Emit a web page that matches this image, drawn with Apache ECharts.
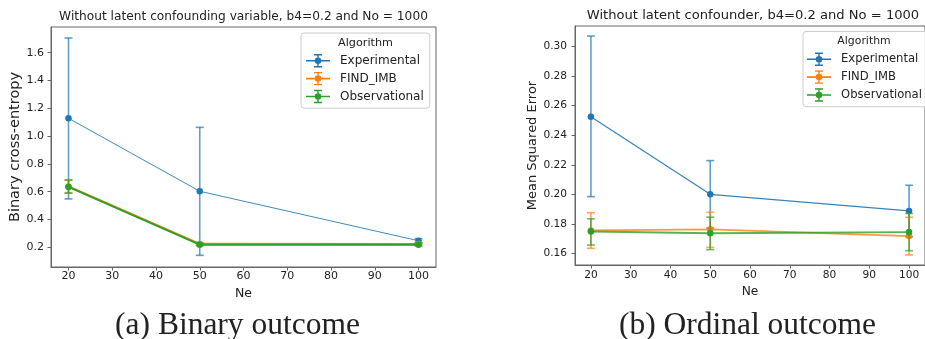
<!DOCTYPE html>
<html>
<head>
<meta charset="utf-8">
<script src="https://cdn.jsdelivr.net/npm/echarts@6/dist/echarts.min.js"></script>
<style>
  html, body { margin: 0; padding: 0; background: #fff; }
  #chart { width: 925px; height: 339px; }
</style>
</head>
<body>
<div id="chart"></div>
<script>
// data
var ne = [20, 50, 100];
var xTicks = [20, 30, 40, 50, 60, 70, 80, 90, 100];
var bceTicks = [0.2, 0.4, 0.6, 0.8, 1.0, 1.2, 1.4, 1.6];
var mseTicks = [0.16, 0.18, 0.20, 0.22, 0.24, 0.26, 0.28, 0.30];
var algorithms = ['Experimental', 'FIND_IMB', 'Observational'];

// (a) binary outcome, binary cross-entropy
var bceExp = [1.128, 0.603, 0.247];
var bceExpLo = [0.548, 0.142, 0.232];
var bceExpHi = [1.706, 1.063, 0.262];
var bceFind = [0.638, 0.224, 0.223];
var bceFindLo = [0.590, 0.215, 0.214];
var bceFindHi = [0.686, 0.232, 0.232];
var bceObs = [0.634, 0.219, 0.219];
var bceObsLo = [0.590, 0.211, 0.210];
var bceObsHi = [0.683, 0.228, 0.228];

// (b) ordinal outcome, mean squared error
var mseExp = [0.2526, 0.2000, 0.1887];
var mseExpLo = [0.1984, 0.1772, 0.1712];
var mseExpHi = [0.3072, 0.2228, 0.2061];
var mseFind = [0.1755, 0.1763, 0.1717];
var mseFindLo = [0.1634, 0.1640, 0.1589];
var mseFindHi = [0.1875, 0.1878, 0.1844];
var mseObs = [0.1748, 0.1736, 0.1744];
var mseObsLo = [0.1656, 0.1625, 0.1618];
var mseObsHi = [0.1834, 0.1845, 0.1870];

var colors = ['#1f77b4', '#ff7f0e', '#2ca02c'];
var ink = '#222';
var frame = '#666';

// line + errorbar glyph for the legend
var legendIcon = 'path://M0 6.2H24V7.8H0Z M11.3 1H12.7V13H11.3Z M8 0.3H16V1.7H8Z M8 12.3H16V13.7H8Z M15.3 7A3.3 3.3 0 1 1 8.7 7A3.3 3.3 0 1 1 15.3 7Z';

function errBar (params, api) {
  var lo = api.coord([api.value(0), api.value(1)])
  var hi = api.coord([api.value(0), api.value(2)])
  var st = { stroke: api.visual('color'), lineWidth: 1.6, opacity: 0.7 }
  var w = 4
  return {
    type: 'group',
    children: [
      { type: 'line', shape: { x1: lo[0], y1: lo[1], x2: hi[0], y2: hi[1] }, style: st },
      { type: 'line', shape: { x1: lo[0] - w, y1: lo[1], x2: lo[0] + w, y2: lo[1] }, style: st },
      { type: 'line', shape: { x1: hi[0] - w, y1: hi[1], x2: hi[0] + w, y2: hi[1] }, style: st }
    ]
  }
}

function pairs (ys) {
  return ne.map(function (x, i) { return [x, ys[i]] })
}
function triples (lo, hi) {
  return ne.map(function (x, i) { return [x, lo[i], hi[i]] })
}

function addSeries (list, idx, name, color, mean, lo, hi, width, opacity, z) {
  list.push({
    name: name,
    type: 'custom',
    xAxisIndex: idx,
    yAxisIndex: idx,
    renderItem: errBar,
    itemStyle: { color: color },
    encode: { x: 0, y: [1, 2] },
    data: triples(lo, hi),
    z: z
  })
  list.push({
    name: name,
    type: 'line',
    xAxisIndex: idx,
    yAxisIndex: idx,
    symbol: 'circle',
    symbolSize: 6.5,
    itemStyle: { color: color },
    lineStyle: { color: color, width: width, opacity: opacity },
    data: pairs(mean),
    z: z + 1
  })
}

var series = []
addSeries(series, 0, 'Experimental', colors[0], bceExp, bceExpLo, bceExpHi, 1, 0.85, 2)
addSeries(series, 0, 'FIND_IMB', colors[1], bceFind, bceFindLo, bceFindHi, 2.2, 1, 4)
addSeries(series, 0, 'Observational', colors[2], bceObs, bceObsLo, bceObsHi, 2, 1, 6)
addSeries(series, 1, 'Experimental', colors[0], mseExp, mseExpLo, mseExpHi, 1.2, 0.9, 2)
addSeries(series, 1, 'FIND_IMB', colors[1], mseFind, mseFindLo, mseFindHi, 1.8, 0.8, 4)
addSeries(series, 1, 'Observational', colors[2], mseObs, mseObsLo, mseObsHi, 1.8, 0.8, 6)

function xAxisFor (idx, fontSize, margin, nameSize) {
  return {
    type: 'value',
    gridIndex: idx,
    min: 16,
    max: 104,
    name: 'Ne',
    nameLocation: 'middle',
    nameGap: 20,
    nameTextStyle: { color: ink, fontSize: nameSize, fontFamily: 'DejaVu Sans' },
    axisLine: { show: true, onZero: false, lineStyle: { color: frame, width: 1 } },
    axisTick: { show: true, length: 3.5, customValues: xTicks, lineStyle: { color: frame } },
    axisLabel: { customValues: xTicks, color: ink, fontSize: fontSize, fontFamily: 'DejaVu Sans', margin: margin },
    splitLine: { show: false }
  }
}

function yAxisFor (idx, min, max, ticks, digits, name, nameSize, nameGap, fontSize, margin) {
  return {
    type: 'value',
    gridIndex: idx,
    min: min,
    max: max,
    name: name,
    nameLocation: 'middle',
    nameGap: nameGap,
    nameTextStyle: { color: ink, fontSize: nameSize, fontFamily: 'DejaVu Sans' },
    axisLine: { show: true, lineStyle: { color: frame, width: 1 } },
    axisTick: { show: true, length: 3.5, customValues: ticks, lineStyle: { color: frame } },
    axisLabel: {
      customValues: ticks,
      color: ink,
      fontSize: fontSize,
      fontFamily: 'DejaVu Sans',
      margin: margin,
      formatter: function (v) { return v.toFixed(digits) }
    },
    splitLine: { show: false }
  }
}

function legendFor (left, top, fontSize, padLeft) {
  return {
    orient: 'vertical',
    left: left,
    top: top,
    data: algorithms.map(function (n) { return { name: n, icon: legendIcon } }),
    itemWidth: 24,
    itemHeight: 14,
    itemGap: 4.5,
    padding: [21, 6, 5, padLeft],
    backgroundColor: 'rgba(255,255,255,0.85)',
    borderColor: '#ccc',
    borderWidth: 1,
    borderRadius: 3,
    selectedMode: false,
    textStyle: { color: ink, fontSize: fontSize, fontFamily: 'DejaVu Sans', padding: [0, 0, 0, 5] }
  }
}

function label (text, x, y, font, rotation) {
  return {
    type: 'text',
    x: x,
    y: y,
    rotation: rotation || 0,
    z: 100,
    style: {
      text: text,
      font: font,
      fill: ink,
      align: 'center',
      verticalAlign: 'middle',
      textAlign: 'center',
      textVerticalAlign: 'middle'
    }
  }
}

var chart = echarts.init(document.getElementById('chart'), null, { renderer: 'canvas' })
var option = {
  animation: false,
  backgroundColor: '#fff',
  grid: [
    { left: 51, top: 27, width: 385, height: 240, show: true, borderColor: frame, borderWidth: 1, containLabel: false },
    { left: 575, top: 26, width: 359, height: 239, show: true, borderColor: frame, borderWidth: 1, containLabel: false }
  ],
  xAxis: [
    xAxisFor(0, 11, 4, 12.5),
    xAxisFor(1, 10.6, 5, 12.2)
  ],
  yAxis: [
    yAxisFor(0, 0.058, 1.785, bceTicks, 1, 'Binary cross-entropy', 14.5, 26, 11, 7),
    yAxisFor(1, 0.1521, 0.314, mseTicks, 2, 'Mean Squared Error', 13, 35, 10.6, 8)
  ],
  legend: [
    legendFor(301, 33, 12, 5),
    legendFor(803, 31.5, 11.6, 4)
  ],
  graphic: [
    label('Without latent confounding variable, b4=0.2 and No = 1000', 243.5, 17, '12.2px "DejaVu Sans"'),
    label('Without latent confounder, b4=0.2 and No = 1000', 753, 16, '13.1px "DejaVu Sans"'),
    label('Algorithm', 365.5, 43, '11.2px "DejaVu Sans"'),
    label('Algorithm', 864, 40.7, '10.9px "DejaVu Sans"'),
    label('(a) Binary outcome', 237.5, 326, '31.5px "Liberation Serif"'),
    label('(b) Ordinal outcome', 747.5, 326, '31.5px "Liberation Serif"')
  ],
  series: series
}
chart.setOption(option)
</script>
</body>
</html>
